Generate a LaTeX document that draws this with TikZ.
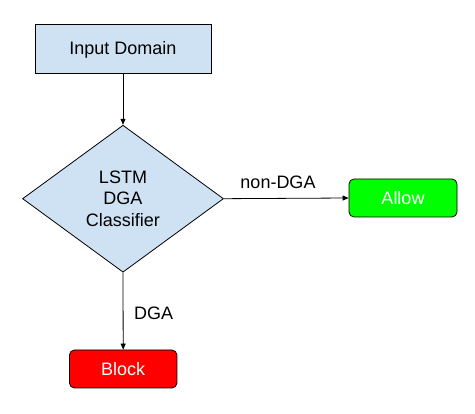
\documentclass[tikz,border=0pt]{standalone}
\usepackage{fontspec}
\setmainfont{Liberation Sans}
\usetikzlibrary{shapes.geometric,arrows.meta}
\definecolor{lblue}{HTML}{CFE2F3}
\definecolor{allowgreen}{HTML}{00FF00}
\definecolor{blockred}{HTML}{FF0000}
\begin{document}
\begin{tikzpicture}[x=1pt,y=-1pt,
  every node/.style={font=\fontsize{18}{21.5}\selectfont},
  sqbox/.style={draw=black, line width=1pt, fill=lblue, inner sep=0pt},
  diabox/.style={diamond, draw=black, line width=0.8pt, fill=lblue, inner sep=0pt,
                 minimum width=201pt, minimum height=147pt, align=center},
  rbox/.style={draw=black, line width=0.8pt, rounded corners=5pt, inner sep=0pt,
               minimum width=108pt, minimum height=38pt, text=white},
  arr/.style={draw=black, line width=0.8pt, -{Triangle[length=6pt,width=5pt]}},
  lbl/.style={inner sep=0pt}]
\useasboundingbox (0,0) rectangle (475,414);
\node[sqbox, minimum width=176pt, minimum height=49pt] (in) at (123,49.5) {Input Domain};
\node[diabox] (cls) at (123,198.7) {LSTM\\DGA\\Classifier};
\node[rbox, fill=allowgreen] (allow) at (403,198) {Allow};
\node[rbox, fill=blockred, minimum width=107.5pt] (block) at (123.2,369) {Block};
\draw[arr] (in.south) -- (cls.north);
\draw[arr] (cls.east) -- (allow.west);
\draw[arr] (cls.south) -- (block.north);
\node[lbl] (nondga) at (278,182) {non-DGA};
\node[lbl] (dga) at (153.7,313.7) {DGA};
\end{tikzpicture}
\end{document}
